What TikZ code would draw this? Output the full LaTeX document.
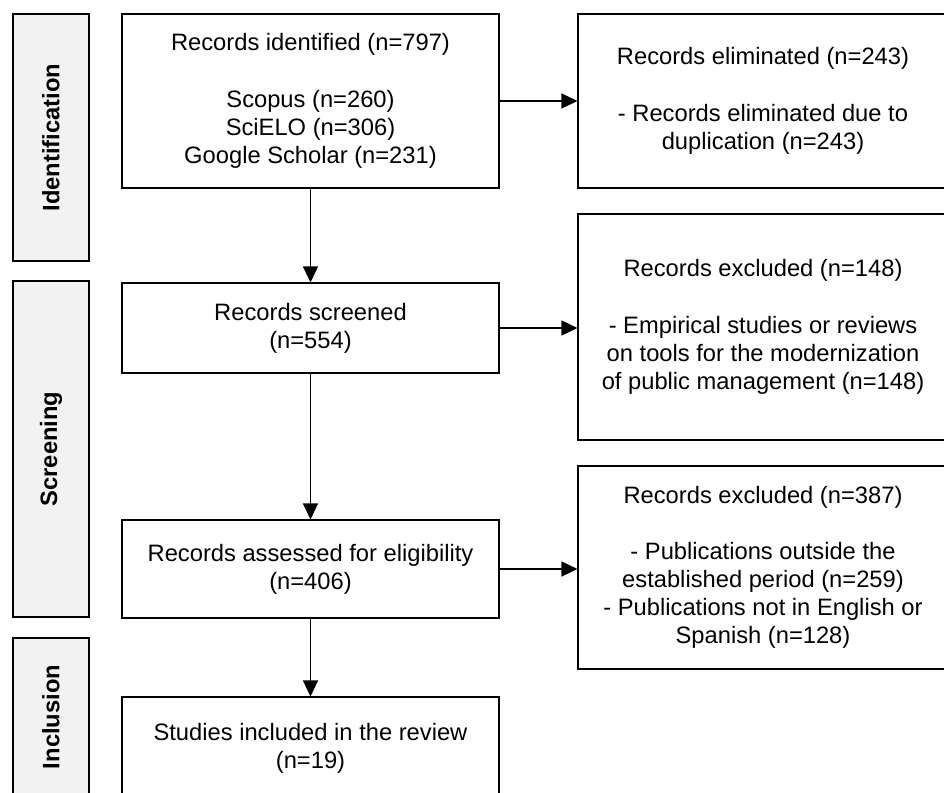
\documentclass[tikz,border=0pt]{standalone}
\usepackage{fontspec}
\setmainfont{Liberation Sans}
\usetikzlibrary{arrows.meta}

\begin{document}
\begin{tikzpicture}[x=0.2mm, y=-0.2mm, line width=0.6pt, >={Triangle[length=3.2mm, width=3mm]},
  box/.style={rectangle, draw, align=center, inner sep=0pt, minimum width=75.4mm, font=\fontsize{13.5}{16}\selectfont},
  outbox/.style={box, minimum width=74mm},
  phase/.style={rectangle, draw, line width=1.1pt, fill=black!5, rotate=90, minimum height=15.2mm, inner sep=0pt, font=\fontsize{13.5}{16}\selectfont\bfseries}]
  \useasboundingbox (0,0) rectangle (944,792);
  \clip (0,0) rectangle (944,792);
  \node[phase, minimum width=49.4mm] (ident) at (51,137.5) {Identification};
  \node[phase, minimum width=67.2mm] (screen) at (51,449) {Screening};
  \node[phase, minimum width=31.6mm] (incl) at (51,717) {Inclusion};
  \node[box, minimum height=34.8mm] (idbox) at (310.5,101) {Records identified (n=797)\\[16pt] Scopus (n=260)\\ SciELO (n=306)\\ Google Scholar (n=231)};
  \node[outbox, minimum height=34.8mm] (elimbox) at (763,101) {Records eliminated (n=243)\\[16pt] - Records eliminated due to\\ duplication (n=243)};
  \node[box, minimum height=18mm] (screenbox) at (310.5,328) {Records screened\\ (n=554)};
  \node[outbox, minimum height=45.2mm] (exclbox) at (763,327) {Records excluded (n=148)\\[16pt] - Empirical studies or reviews\\ on tools for the modernization\\ of public management (n=148)};
  \node[box, minimum height=19.6mm] (assessbox) at (310.5,569) {Records assessed for eligibility\\ (n=406)};
  \node[outbox, minimum height=40.6mm] (elgbox) at (763,567.5) {Records excluded (n=387)\\[16pt] - Publications outside the\\ established period (n=259)\\ - Publications not in English or\\ Spanish (n=128)};
  \node[box, minimum height=20.4mm] (inclbox) at (310.5,748) {Studies included in the review\\ (n=19)};
  \draw[->] (idbox) -- (elimbox);
  \draw[->] (idbox) -- (screenbox);
  \draw[->] (screenbox.east) -- (screenbox.east -| exclbox.west);
  \draw[->] (screenbox) -- (assessbox);
  \draw[->] (assessbox.east) -- (assessbox.east -| elgbox.west);
  \draw[->] (assessbox) -- (inclbox);
\end{tikzpicture}
\end{document}
